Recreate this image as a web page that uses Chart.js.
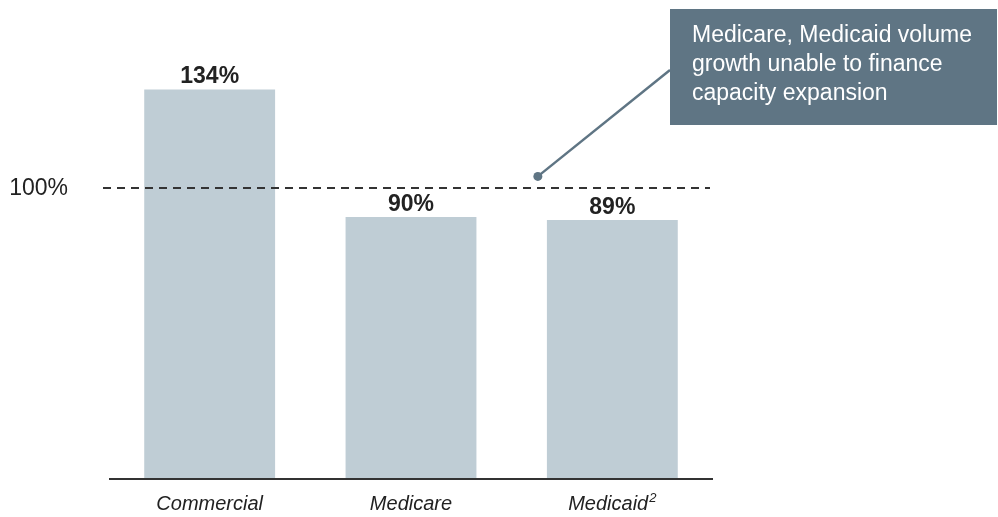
<!DOCTYPE html>
<html>
<head>
<meta charset="utf-8">
<script src="https://cdn.jsdelivr.net/npm/chart.js@4/dist/chart.umd.min.js"></script>
<style>
  html, body { margin: 0; padding: 0; background: #ffffff; }
  #wrap { width: 998px; height: 517px; }
</style>
</head>
<body>
<div id="wrap"><canvas id="c" width="998" height="517"></canvas></div>
<script>
// Payer categories and their ratios (percent)
const categories = ['Commercial', 'Medicare', 'Medicaid'];
const footnotes = ['', '', '2'];
const ratios = [134, 90, 89];

// Break-even reference level and the only y tick shown
const referenceLevel = 100;
const yTicks = [100];

// Callout text and the point on the chart it refers to (category index, value)
const calloutLines = [
  'Medicare, Medicaid volume',
  'growth unable to finance',
  'capacity expansion'
];
const calloutAnchor = { index: 1.63, value: 104 };

const FONT = '"Liberation Sans", Arial, sans-serif';
const BAR_COLOR = '#bfcdd5';
const CALLOUT_COLOR = '#5f7584';
const TEXT_COLOR = '#222222';
const AXIS_COLOR = '#333333';

const overlay = {
  id: 'overlay',
  afterDatasetsDraw(chart) {
    const { ctx, chartArea, scales } = chart;
    const x = scales.x, y = scales.y;

    // baseline axis
    const y0 = y.getPixelForValue(0);
    ctx.save();
    ctx.strokeStyle = AXIS_COLOR;
    ctx.lineWidth = 2;
    ctx.beginPath();
    ctx.moveTo(chartArea.left, y0 + 1);
    ctx.lineTo(chartArea.right, y0 + 1);
    ctx.stroke();
    ctx.restore();

    // y tick label(s)
    ctx.save();
    ctx.font = '23px ' + FONT;
    ctx.fillStyle = TEXT_COLOR;
    ctx.textAlign = 'right';
    ctx.textBaseline = 'middle';
    yTicks.forEach(v => {
      ctx.fillText(v + '%', chartArea.left - 41, y.getPixelForValue(v) + 1);
    });
    ctx.restore();

    // dashed break-even line
    const yRef = y.getPixelForValue(referenceLevel);
    ctx.save();
    ctx.strokeStyle = AXIS_COLOR;
    ctx.lineWidth = 2;
    ctx.setLineDash([8, 6]);
    ctx.beginPath();
    ctx.moveTo(chartArea.left - 6, yRef);
    ctx.lineTo(chartArea.right - 3, yRef);
    ctx.stroke();
    ctx.restore();

    // value labels above bars
    const meta = chart.getDatasetMeta(0);
    ctx.save();
    ctx.font = 'bold 23px ' + FONT;
    ctx.fillStyle = TEXT_COLOR;
    ctx.textAlign = 'center';
    ctx.textBaseline = 'alphabetic';
    meta.data.forEach((bar, i) => {
      ctx.fillText(ratios[i] + '%', bar.x, bar.y - 6);
    });
    ctx.restore();

    // category labels (italic, with footnote superscripts)
    ctx.save();
    ctx.fillStyle = TEXT_COLOR;
    ctx.textBaseline = 'alphabetic';
    const labelBase = y0 + 32;
    categories.forEach((name, i) => {
      const cx = x.getPixelForValue(i);
      ctx.font = 'italic 20px ' + FONT;
      const w1 = ctx.measureText(name).width;
      ctx.font = 'italic 13px ' + FONT;
      const w2 = footnotes[i] ? ctx.measureText(footnotes[i]).width + 1 : 0;
      const start = cx - (w1 + w2) / 2;
      ctx.textAlign = 'left';
      ctx.font = 'italic 20px ' + FONT;
      ctx.fillText(name, start, labelBase);
      if (footnotes[i]) {
        ctx.font = 'italic 13px ' + FONT;
        ctx.fillText(footnotes[i], start + w1 + 1, labelBase - 8);
      }
    });
    ctx.restore();

    // callout box with leader line
    const boxLeft = chartArea.right - 43;
    const boxTop = 9;
    const boxRight = chart.width - 1;
    const boxBottom = 125;
    const ax = x.getPixelForValue(calloutAnchor.index);
    const ay = y.getPixelForValue(calloutAnchor.value);
    ctx.save();
    ctx.strokeStyle = CALLOUT_COLOR;
    ctx.lineWidth = 2.5;
    ctx.beginPath();
    ctx.moveTo(ax, ay);
    ctx.lineTo(boxLeft, boxTop + 61);
    ctx.stroke();
    ctx.fillStyle = CALLOUT_COLOR;
    ctx.beginPath();
    ctx.arc(ax, ay, 4.5, 0, Math.PI * 2);
    ctx.fill();
    ctx.fillRect(boxLeft, boxTop, boxRight - boxLeft, boxBottom - boxTop);
    ctx.fillStyle = '#ffffff';
    ctx.font = '23px ' + FONT;
    ctx.textAlign = 'left';
    ctx.textBaseline = 'middle';
    calloutLines.forEach((line, i) => {
      ctx.fillText(line, boxLeft + 22, boxTop + 27 + i * 29);
    });
    ctx.restore();
  }
};

new Chart(document.getElementById('c'), {
  type: 'bar',
  data: {
    labels: categories,
    datasets: [{
      data: ratios,
      backgroundColor: BAR_COLOR,
      borderWidth: 0,
      barPercentage: 0.65,
      categoryPercentage: 1.0
    }]
  },
  options: {
    responsive: false,
    animation: false,
    devicePixelRatio: 1,
    layout: { padding: { left: 109, right: 285, top: 14, bottom: 39 } },
    plugins: {
      legend: { display: false },
      tooltip: { enabled: false },
      title: { display: false }
    },
    scales: {
      x: { display: false },
      y: { display: false, min: 0, max: 160 }
    }
  },
  plugins: [overlay]
});
</script>
</body>
</html>
